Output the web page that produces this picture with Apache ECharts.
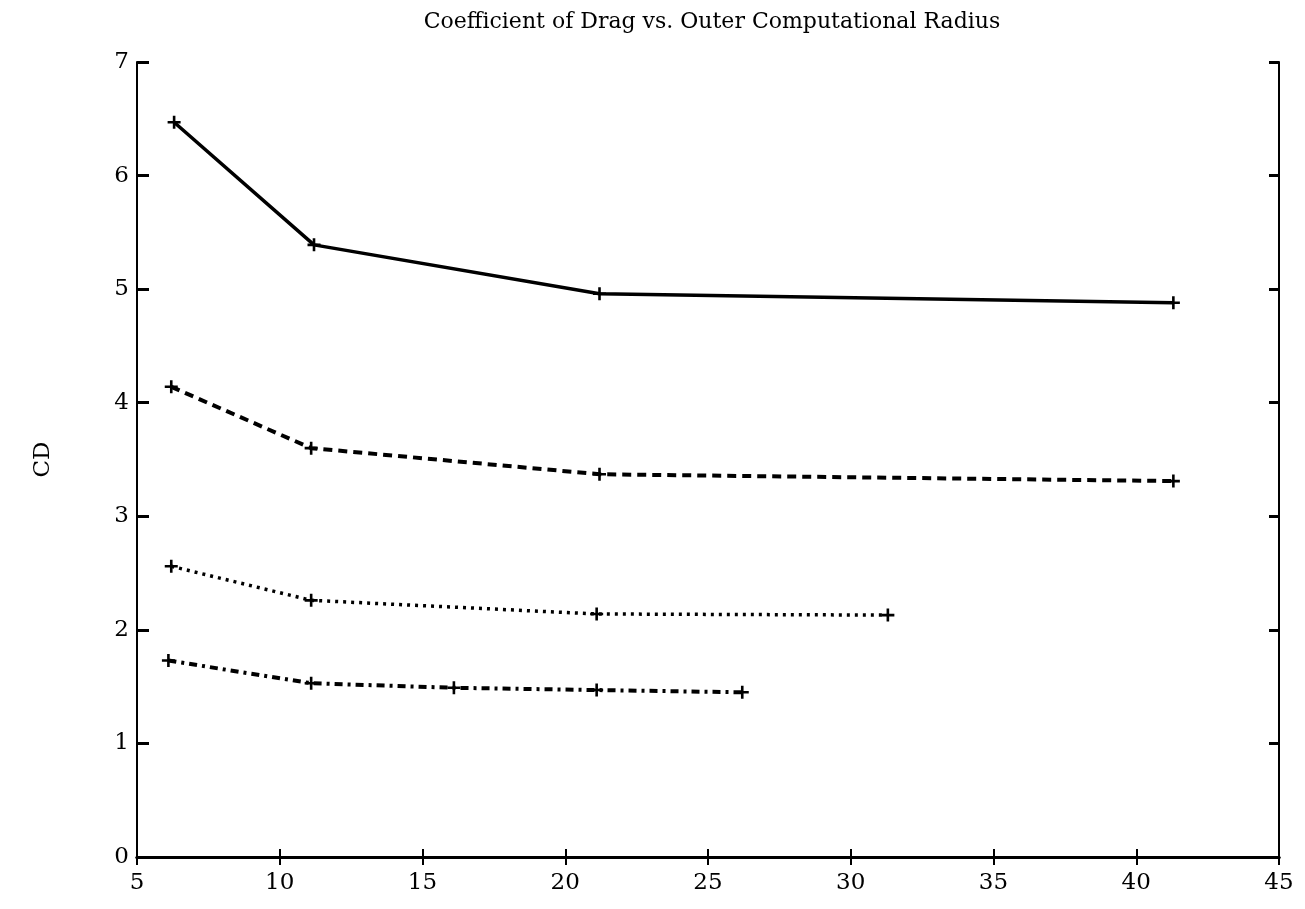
<!DOCTYPE html>
<html>
<head>
<meta charset="utf-8">
<title>Coefficient of Drag vs. Outer Computational Radius</title>
<script src="https://cdn.jsdelivr.net/npm/echarts@6/dist/echarts.min.js"></script>
<style>
  html, body { margin: 0; padding: 0; background: #fff; }
  #chart { width: 1305px; height: 909px; }
</style>
</head>
<body>
<div id="chart"></div>
<script>
// values
const radiusA = [6.3, 11.2, 21.2, 41.3];
const cdSolid = [6.47, 5.39, 4.96, 4.88];

const radiusB = [6.2, 11.1, 21.2, 41.3];
const cdDashed = [4.14, 3.60, 3.37, 3.31];

const radiusC = [6.2, 11.1, 21.1, 31.3];
const cdDotted = [2.56, 2.26, 2.14, 2.13];

const radiusD = [6.1, 11.1, 16.1, 21.1, 26.2];
const cdDashDot = [1.73, 1.53, 1.49, 1.47, 1.45];

const xTicks = [5, 10, 15, 20, 25, 30, 35, 40, 45];
const yTicks = [0, 1, 2, 3, 4, 5, 6, 7];

const font = '"DejaVu Serif", "Liberation Serif", serif';
const plus = 'path://M4,0h2v4h4v2h-4v4h-2v-4h-4v-2h4z';

function pairs(xs, ys) {
    return xs.map((x, i) => [x, ys[i]]);
}

function lineSeries(name, xs, ys, type, width) {
    return {
        name: name,
        type: 'line',
        data: pairs(xs, ys),
        symbol: plus,
        symbolSize: 13,
        itemStyle: { color: '#000' },
        lineStyle: { color: '#000', width: width, type: type },
        animation: false
    };
}

const elem = document.getElementById('chart');
const myChart = echarts.init(elem, null, { renderer: 'canvas' });

const axisLineX = { show: true, lineStyle: { color: '#000', width: 3 } };
const axisLineY = { show: true, lineStyle: { color: '#000', width: 2 } };

myChart.setOption({
    backgroundColor: '#fff',
    title: {
        text: 'Coefficient of Drag vs. Outer Computational Radius',
        left: 707,
        top: 6,
        textAlign: 'center',
        textStyle: { fontFamily: font, fontSize: 22, fontWeight: 'normal', color: '#000' }
    },
    grid: { left: 137, right: 26, top: 62, bottom: 52 },
    xAxis: [{
        type: 'value',
        min: 5, max: 45, interval: 5,
        position: 'bottom',
        axisLine: axisLineX,
        axisTick: { show: true, inside: true, length: 8, lineStyle: { color: '#000', width: 2 } },
        axisLabel: { color: '#000', fontFamily: font, fontSize: 23, margin: 15,
            formatter: v => xTicks.includes(v) ? String(v) : '' },
        splitLine: { show: false }
    }, {
        type: 'value',
        min: 5, max: 45, interval: 5,
        position: 'top',
        axisLine: axisLineX,
        axisTick: { show: true, inside: true, length: 8, lineStyle: { color: '#000', width: 2 } },
        axisLabel: { show: false },
        splitLine: { show: false }
    }],
    yAxis: [{
        type: 'value',
        min: 0, max: 7, interval: 1,
        position: 'left',
        name: 'CD',
        nameLocation: 'middle',
        nameGap: 82,
        nameRotate: 90,
        nameTextStyle: { color: '#000', fontFamily: font, fontSize: 23 },
        axisLine: axisLineY,
        axisTick: { show: true, inside: true, length: 12, lineStyle: { color: '#000', width: 3 } },
        axisLabel: { color: '#000', fontFamily: font, fontSize: 23, margin: 8,
            formatter: v => yTicks.includes(v) ? String(v) : '' },
        splitLine: { show: false }
    }, {
        type: 'value',
        min: 0, max: 7, interval: 1,
        position: 'right',
        axisLine: axisLineY,
        axisTick: { show: true, inside: true, length: 10, lineStyle: { color: '#000', width: 3 } },
        axisLabel: { show: false },
        splitLine: { show: false }
    }],
    series: [
        lineSeries('solid', radiusA, cdSolid, 'solid', 3.5),
        lineSeries('dashed', radiusB, cdDashed, [9, 6], 4),
        lineSeries('dotted', radiusC, cdDotted, [3, 5], 3.5),
        lineSeries('dashdot', radiusD, cdDashDot, [8, 5, 3, 5], 4)
    ]
});

window.addEventListener('resize', function () {
    myChart.resize();
});
</script>
</body>
</html>
